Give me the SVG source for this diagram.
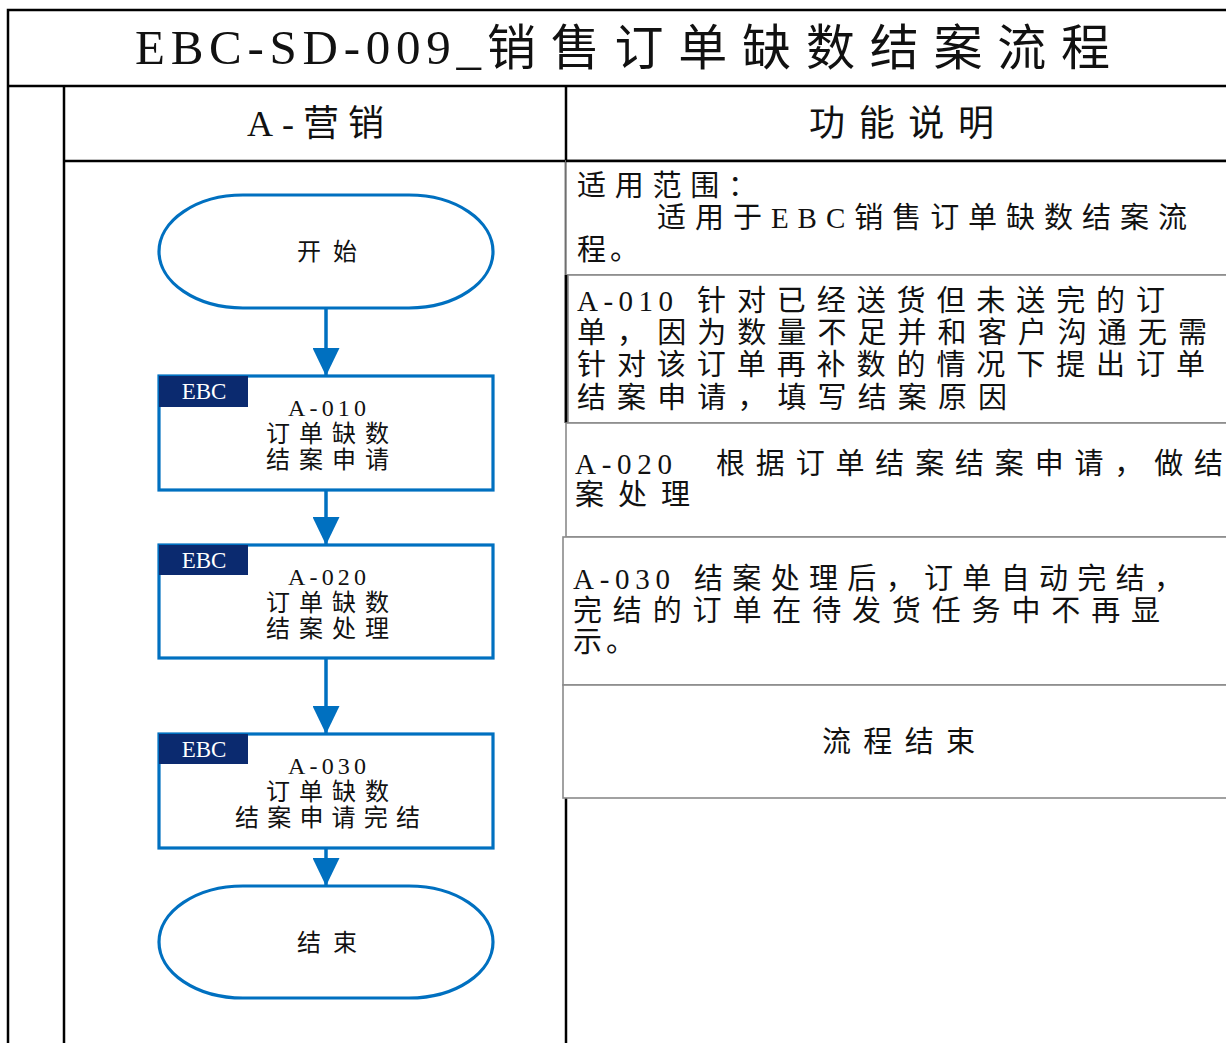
<svg xmlns="http://www.w3.org/2000/svg" width="1226" height="1043" viewBox="0 0 1226 1043">
<defs>
<style>
.frame{stroke:#000;stroke-width:2.5;fill:none}
.cell{stroke:#8a8a8a;stroke-width:1.6;fill:#fff}
.term{fill:#fff;stroke:#0070C0;stroke-width:3.2}
.proc{fill:#fff;stroke:#0070C0;stroke-width:3.2}
.tag{fill:#0B2A6F}
.tagt{font-family:"Liberation Serif","Noto Sans CJK SC",serif;font-size:23px;fill:#fff;text-anchor:middle}
.bt{font-family:"Liberation Serif","Noto Sans CJK SC",serif;font-size:24px;fill:#111}
.rt{font-family:"Liberation Serif","Noto Sans CJK SC",serif;font-size:29px;fill:#111}
.hd{font-family:"Liberation Serif","Noto Sans CJK SC",serif;font-size:36px;fill:#111}
.tt{font-family:"Liberation Serif","Noto Sans CJK SC",serif;font-size:49px;fill:#111}
.conn{stroke:#0070C0;stroke-width:3.5;fill:none}
</style>
<marker id="ah" viewBox="0 0 28 27" refX="28" refY="13.5" markerWidth="28" markerHeight="27" markerUnits="userSpaceOnUse" orient="auto">
<path d="M0,0 L28,13.5 L0,27 z" fill="#0070C0"/>
</marker>
</defs>
<rect width="1226" height="1043" fill="#fff"/>

<g id="frame">
<rect class="frame" x="8" y="10" width="1240" height="1060"/>
<line class="frame" x1="8" y1="86" x2="1240" y2="86"/>
<line class="frame" x1="64" y1="86" x2="64" y2="1050"/>
<line class="frame" x1="64" y1="161" x2="1240" y2="161"/>
<line class="frame" x1="566" y1="86" x2="566" y2="423"/>
<line class="frame" x1="566" y1="798" x2="566" y2="1050"/>
</g>

<g id="title">
<text class="tt" x="135" y="64" textLength="346" lengthAdjust="spacing">EBC-SD-009_</text>
<text class="tt" x="487" y="65" textLength="623" lengthAdjust="spacing">销售订单缺数结案流程</text>
</g>

<g id="header-lane">
<text class="hd" x="247" y="136" textLength="137" lengthAdjust="spacing">A-营销</text>
</g>
<g id="header-desc">
<text class="hd" x="809" y="136" textLength="185" lengthAdjust="spacing">功能说明</text>
</g>

<g id="desc-scope">
<rect class="cell" x="566" y="161" width="680" height="114"/>
<line class="frame" x1="566" y1="161" x2="1240" y2="161"/>
<text class="rt" x="577" y="196" textLength="180" lengthAdjust="spacing">适用范围：</text>
<text class="rt" x="657" y="228" textLength="530" lengthAdjust="spacing">适用于EBC销售订单缺数结案流</text>
<text class="rt" x="577" y="260" textLength="62" lengthAdjust="spacing">程。</text>
</g>

<g id="desc-a010">
<rect class="cell" x="568" y="275" width="680" height="148"/>
<line class="frame" x1="566" y1="275" x2="566" y2="423"/>
<text class="rt" x="577" y="311"><tspan textLength="96" lengthAdjust="spacing">A-010</tspan><tspan x="697" textLength="468" lengthAdjust="spacing">针对已经送货但未送完的订</tspan></text>
<text class="rt" x="577" y="343" textLength="630" lengthAdjust="spacing">单，因为数量不足并和客户沟通无需</text>
<text class="rt" x="577" y="375" textLength="628" lengthAdjust="spacing">针对该订单再补数的情况下提出订单</text>
<text class="rt" x="577" y="408" textLength="430" lengthAdjust="spacing">结案申请，填写结案原因</text>
</g>

<g id="desc-a020">
<rect class="cell" x="566" y="423" width="680" height="114"/>
<text class="rt" x="575" y="474"><tspan textLength="97" lengthAdjust="spacing">A-020</tspan><tspan x="716" textLength="507" lengthAdjust="spacing">根据订单结案结案申请，做结</tspan></text>
<text class="rt" x="575" y="505" textLength="115" lengthAdjust="spacing">案处理</text>
</g>

<g id="desc-a030">
<rect class="cell" x="563" y="537" width="680" height="148"/>
<text class="rt" x="573" y="589"><tspan textLength="97" lengthAdjust="spacing">A-030</tspan><tspan x="694" textLength="489" lengthAdjust="spacing">结案处理后，订单自动完结，</tspan></text>
<text class="rt" x="573" y="621" textLength="587" lengthAdjust="spacing">完结的订单在待发货任务中不再显</text>
<text class="rt" x="573" y="652" textLength="62" lengthAdjust="spacing">示。</text>
</g>

<g id="desc-end">
<rect class="cell" x="563" y="685" width="680" height="113"/>
<text class="rt" x="822" y="752" font-size="31" textLength="153" lengthAdjust="spacing">流程结束</text>
</g>

<g id="connectors">
<line class="conn" x1="326" y1="308" x2="326" y2="376" marker-end="url(#ah)"/>
<line class="conn" x1="326" y1="490" x2="326" y2="545" marker-end="url(#ah)"/>
<line class="conn" x1="326" y1="658" x2="326" y2="734" marker-end="url(#ah)"/>
<line class="conn" x1="326" y1="848" x2="326" y2="886" marker-end="url(#ah)"/>
</g>

<g id="start">
<rect class="term" x="159" y="195" width="334" height="113" rx="84" ry="56.5"/>
<text class="bt" x="297" y="260" textLength="60" lengthAdjust="spacing">开始</text>
</g>

<g id="a010">
<rect class="proc" x="159" y="376" width="334" height="114"/>
<rect class="tag" x="159" y="376" width="89" height="31"/>
<text class="tagt" x="204" y="399">EBC</text>
<text class="bt" x="288" y="416" textLength="78" lengthAdjust="spacing">A-010</text>
<text class="bt" x="266" y="442" textLength="123" lengthAdjust="spacing">订单缺数</text>
<text class="bt" x="266" y="468" textLength="123" lengthAdjust="spacing">结案申请</text>
</g>

<g id="a020">
<rect class="proc" x="159" y="545" width="334" height="113"/>
<rect class="tag" x="159" y="545" width="89" height="30"/>
<text class="tagt" x="204" y="568">EBC</text>
<text class="bt" x="288" y="585" textLength="78" lengthAdjust="spacing">A-020</text>
<text class="bt" x="266" y="611" textLength="123" lengthAdjust="spacing">订单缺数</text>
<text class="bt" x="266" y="637" textLength="123" lengthAdjust="spacing">结案处理</text>
</g>

<g id="a030">
<rect class="proc" x="159" y="734" width="334" height="114"/>
<rect class="tag" x="159" y="734" width="89" height="30"/>
<text class="tagt" x="204" y="757">EBC</text>
<text class="bt" x="288" y="774" textLength="78" lengthAdjust="spacing">A-030</text>
<text class="bt" x="266" y="800" textLength="123" lengthAdjust="spacing">订单缺数</text>
<text class="bt" x="235" y="826" textLength="185" lengthAdjust="spacing">结案申请完结</text>
</g>

<g id="end">
<rect class="term" x="159" y="886" width="334" height="112" rx="84" ry="56"/>
<text class="bt" x="297" y="951" textLength="60" lengthAdjust="spacing">结束</text>
</g>
</svg>
